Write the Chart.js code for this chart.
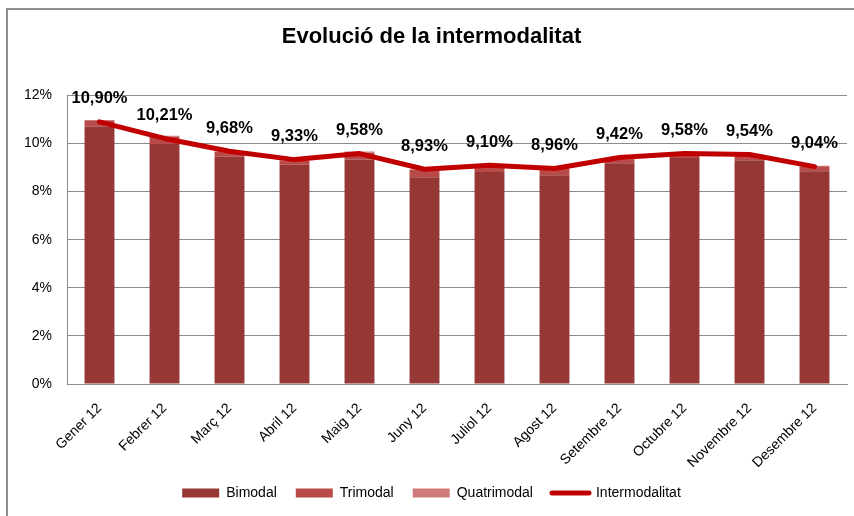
<!DOCTYPE html>
<html>
<head>
<meta charset="utf-8">
<script src="https://cdn.jsdelivr.net/npm/chart.js@4"></script>
<style>
  html, body { margin: 0; padding: 0; background: #fff; }
  #wrap { width: 854px; height: 516px; }
</style>
</head>
<body>
<div id="wrap"><canvas id="chart" width="854" height="516"></canvas></div>
<script>
// Evolució de la intermodalitat - 2012

const months = ['Gener 12', 'Febrer 12', 'Març 12', 'Abril 12', 'Maig 12', 'Juny 12',
  'Juliol 12', 'Agost 12', 'Setembre 12', 'Octubre 12', 'Novembre 12', 'Desembre 12'];

const bimodal = [10.70, 9.98, 9.45, 9.12, 9.33, 8.60, 8.82, 8.68, 9.18, 9.40, 9.30, 8.85];
const trimodal = [0.24, 0.30, 0.20, 0.17, 0.30, 0.30, 0.17, 0.26, 0.16, 0.15, 0.20, 0.20];
const quatrimodal = [0.04, 0.04, 0.03, 0.03, 0.04, 0.03, 0.03, 0.03, 0.03, 0.03, 0.03, 0.03];
const intermodalitat = [10.90, 10.21, 9.68, 9.33, 9.58, 8.93, 9.10, 8.96, 9.42, 9.58, 9.54, 9.04];

const yTicks = [0, 2, 4, 6, 8, 10, 12];

const FONT = "'Liberation Sans', Arial, sans-serif";
const GRID = '#8c8c8c';

const pct = (v, dec) => v.toFixed(dec).replace('.', ',') + '%';

// frame round the chart (only top and left visible)
const framePlugin = {
  id: 'frame',
  beforeDraw(chart) {
    const ctx = chart.ctx;
    ctx.save();
    ctx.fillStyle = '#fff';
    ctx.fillRect(0, 0, chart.width, chart.height);
    ctx.strokeStyle = '#8e8e8e';
    ctx.lineWidth = 2;
    ctx.beginPath();
    ctx.moveTo(7, chart.height);
    ctx.lineTo(7, 9);
    ctx.lineTo(chart.width, 9);
    ctx.stroke();
    ctx.restore();
  }
};

// value labels above the line points
const lineLabels = {
  id: 'lineLabels',
  afterDatasetsDraw(chart) {
    const ctx = chart.ctx;
    const idx = chart.data.datasets.findIndex(d => d.type === 'line');
    const meta = chart.getDatasetMeta(idx);
    ctx.save();
    ctx.font = 'bold 16.5px ' + FONT;
    ctx.fillStyle = '#000';
    ctx.textAlign = 'center';
    ctx.textBaseline = 'middle';
    meta.data.forEach((pt, i) => {
      ctx.fillText(pct(intermodalitat[i], 2), pt.x, pt.y - 23);
    });
    ctx.restore();
  }
};

new Chart(document.getElementById('chart'), {
  data: {
    labels: months,
    datasets: [
      { type: 'bar', label: 'Bimodal', data: bimodal, backgroundColor: '#953735', borderWidth: 0, stack: 'm' },
      { type: 'bar', label: 'Trimodal', data: trimodal, backgroundColor: '#b84b49', borderWidth: 0, stack: 'm' },
      { type: 'bar', label: 'Quatrimodal', data: quatrimodal, backgroundColor: '#cf7b79', borderWidth: 0, stack: 'm' },
      {
        type: 'line', label: 'Intermodalitat', data: intermodalitat, stack: 'line', order: -1,
        borderColor: '#c00000', backgroundColor: '#c00000', borderWidth: 5,
        borderCapStyle: 'round', borderJoinStyle: 'round',
        pointRadius: 0, tension: 0
      }
    ]
  },
  options: {
    responsive: false,
    animation: false,
    layout: { padding: { left: 16, right: 7, top: 0, bottom: 6 } },
    datasets: { bar: { barPercentage: 0.46, categoryPercentage: 1 } },
    scales: {
      x: {
        stacked: true,
        grid: { display: false },
        border: { color: GRID, width: 1 },
        ticks: { color: '#000', padding: 8, font: { family: FONT, size: 14 }, minRotation: 45, maxRotation: 45, autoSkip: false },
        afterFit: s => { s.height = 83; }
      },
      y: {
        stacked: true,
        min: 0, max: 12,
        afterBuildTicks: s => { s.ticks = yTicks.map(v => ({ value: v })); },
        grid: { color: GRID, drawTicks: false },
        border: { color: GRID, width: 1 },
        ticks: { color: '#000', padding: 15, font: { family: FONT, size: 14 }, callback: v => v + '%' },
        afterFit: s => { s.width = 51; }
      }
    },
    plugins: {
      title: {
        display: true,
        text: 'Evolució de la intermodalitat',
        color: '#000',
        font: { family: FONT, size: 22, weight: 'bold' },
        padding: { top: 24, bottom: 45 }
      },
      legend: {
        position: 'bottom',
        labels: {
          color: '#000',
          font: { family: FONT, size: 14 },
          usePointStyle: true,
          pointStyleWidth: 37,
          boxHeight: 9,
          padding: 19,
          sort: (a, b) => a.datasetIndex - b.datasetIndex,
          generateLabels: chart => chart.data.datasets.map((d, i) => ({
            text: d.label,
            datasetIndex: i,
            fillStyle: d.backgroundColor,
            strokeStyle: d.type === 'line' ? d.borderColor : d.backgroundColor,
            lineWidth: d.type === 'line' ? 5 : 0,
            lineCap: 'round',
            pointStyle: d.type === 'line' ? 'line' : 'rect',
            fontColor: '#000',
            hidden: false
          }))
        }
      },
      tooltip: { enabled: false }
    }
  },
  plugins: [framePlugin, lineLabels]
});
</script>
</body>
</html>
